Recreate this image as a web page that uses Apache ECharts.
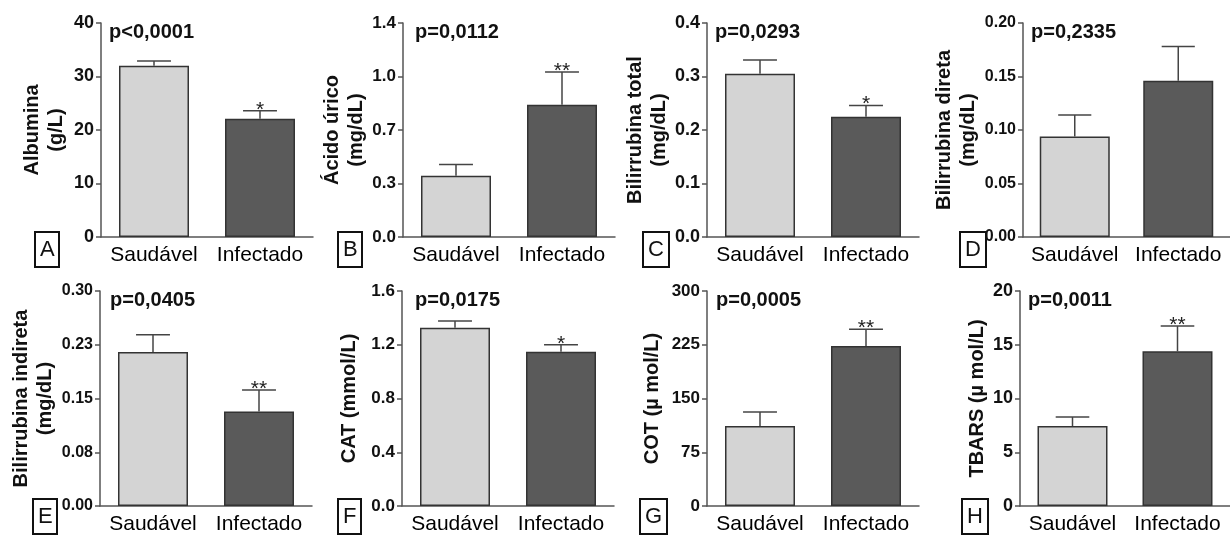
<!DOCTYPE html>
<html>
<head>
<meta charset="utf-8">
<script src="https://cdn.jsdelivr.net/npm/echarts@6/dist/echarts.min.js"></script>
<style>
html,body{margin:0;padding:0;background:#fff;}
#chart{width:1230px;height:536px;}
</style>
</head>
<body>
<div id="chart"></div>
<script>
// ---- data ----
const categories = ['Saudável', 'Infectado'];

const albuminaMean = [32.0, 22.1];
const albuminaErr = [0.9, 1.5];
const albuminaStars = ['', '*'];
const albuminaTicks = ['0', '10', '20', '30', '40'];

const acidoUricoMean = [0.40, 0.866];
const acidoUricoErr = [0.075, 0.213];
const acidoUricoStars = ['', '**'];
const acidoUricoTicks = ['0.0', '0.3', '0.7', '1.0', '1.4'];

const biliTotalMean = [0.305, 0.225];
const biliTotalErr = [0.026, 0.021];
const biliTotalStars = ['', '*'];
const biliTotalTicks = ['0.0', '0.1', '0.2', '0.3', '0.4'];

const biliDiretaMean = [0.094, 0.146];
const biliDiretaErr = [0.020, 0.032];
const biliDiretaStars = ['', ''];
const biliDiretaTicks = ['0.00', '0.05', '0.10', '0.15', '0.20'];

const biliIndiretaMean = [0.215, 0.132];
const biliIndiretaErr = [0.024, 0.030];
const biliIndiretaStars = ['', '**'];
const biliIndiretaTicks = ['0.00', '0.08', '0.15', '0.23', '0.30'];

const catMean = [1.326, 1.148];
const catErr = [0.050, 0.052];
const catStars = ['', '*'];
const catTicks = ['0.0', '0.4', '0.8', '1.2', '1.6'];

const cotMean = [111.6, 223.3];
const cotErr = [19.4, 23.2];
const cotStars = ['', '**'];
const cotTicks = ['0', '75', '150', '225', '300'];

const tbarsMean = [7.44, 14.39];
const tbarsErr = [0.84, 2.35];
const tbarsStars = ['', '**'];
const tbarsTicks = ['0', '5', '10', '15', '20'];

const yTitles = ['Albumina\n(g/L)', 'Ácido úrico\n(mg/dL)', 'Bilirrubina total\n(mg/dL)', 'Bilirrubina direta\n(mg/dL)',
                 'Bilirrubina indireta\n(mg/dL)', 'CAT (mmol/L)', 'COT (µ mol/L)', 'TBARS (µ mol/L)'];
const pValues = ['p<0,0001', 'p=0,0112', 'p=0,0293', 'p=0,2335', 'p=0,0405', 'p=0,0175', 'p=0,0005', 'p=0,0011'];
const letters = ['A', 'B', 'C', 'D', 'E', 'F', 'G', 'H'];
const yMax = [40, 1.4, 0.4, 0.2, 0.3, 1.6, 300, 20];
const yInterval = [10, 0.35, 0.1, 0.05, 0.075, 0.4, 75, 5];

const means = [albuminaMean, acidoUricoMean, biliTotalMean, biliDiretaMean, biliIndiretaMean, catMean, cotMean, tbarsMean];
const errs = [albuminaErr, acidoUricoErr, biliTotalErr, biliDiretaErr, biliIndiretaErr, catErr, cotErr, tbarsErr];
const stars = [albuminaStars, acidoUricoStars, biliTotalStars, biliDiretaStars, biliIndiretaStars, catStars, cotStars, tbarsStars];
const ticks = [albuminaTicks, acidoUricoTicks, biliTotalTicks, biliDiretaTicks, biliIndiretaTicks, catTicks, cotTicks, tbarsTicks];

// ---- layout ----
const gridPos = [
  {left: 101, top: 23, width: 212, height: 214},
  {left: 403, top: 23, width: 212, height: 214},
  {left: 707, top: 23, width: 212, height: 214},
  {left: 1023, top: 23, width: 211, height: 214},
  {left: 100, top: 291, width: 212, height: 215},
  {left: 402, top: 291, width: 212, height: 215},
  {left: 707, top: 291, width: 212, height: 215},
  {left: 1020, top: 291, width: 211, height: 215}
];
const nameGaps = [33, 29, 34, 42, 39, 41, 43, 29];
const tickFont = [18, 17, 18, 16, 16, 17, 17, 18];
const pPos = [[109,22],[415,22],[715,22],[1031,22],[110,290],[415,290],[716,290],[1028,290]];
const letterPos = [[35,232],[338,232],[643,232],[960,232],[33,499],[338,499],[640,499],[962,499]];

const FONT = 'Liberation Sans, Arial, sans-serif';
const AXC = '#555';
const barColors = ['#d4d4d4', '#5a5a5a'];

const grids = [], xAxes = [], yAxes = [], series = [], titles = [];

for (let i = 0; i < 8; i++) {
  grids.push(Object.assign({containLabel: false}, gridPos[i]));
  xAxes.push({
    type: 'category', gridIndex: i, data: categories,
    axisLine: {lineStyle: {color: AXC, width: 1.5}},
    axisTick: {alignWithLabel: true, length: 5, lineStyle: {color: AXC, width: 1.5}},
    axisLabel: {color: '#000', fontFamily: FONT, fontSize: 21, margin: 8, interval: 0}
  });
  const tl = ticks[i], iv = yInterval[i];
  yAxes.push({
    type: 'value', gridIndex: i, min: 0, max: yMax[i], interval: iv,
    name: yTitles[i], nameLocation: 'middle', nameGap: nameGaps[i],
    nameTextStyle: {color: '#111', fontFamily: FONT, fontSize: 20, fontWeight: 'bold', lineHeight: 24},
    axisLine: {show: true, lineStyle: {color: AXC, width: 1.5}},
    axisTick: {show: true, length: 5, lineStyle: {color: AXC, width: 1.5}},
    splitLine: {show: false},
    axisLabel: {color: '#111', fontFamily: FONT, fontSize: tickFont[i], fontWeight: 'bold', margin: 7,
      formatter: (v) => tl[Math.round(v / iv)]}
  });
  const m = means[i];
  series.push({
    type: 'bar', xAxisIndex: i, yAxisIndex: i, barWidth: 70,
    data: m.map((v, k) => ({value: v, itemStyle: {color: barColors[k]}})),
    itemStyle: {borderColor: '#333', borderWidth: 1.5},
    silent: true, animation: false
  });
  const e = errs[i], st = stars[i];
  series.push({
    type: 'custom', xAxisIndex: i, yAxisIndex: i, z: 5, animation: false, silent: true,
    data: m.map((v, k) => [k, v, e[k]]),
    renderItem: function (params, api) {
      const x = api.value(0), y = api.value(1), er = api.value(2);
      const p0 = api.coord([x, y]);
      const p1 = api.coord([x, y + er]);
      const half = api.size([1, 0])[0] * 0.16;
      const children = [
        {type: 'line', shape: {x1: p0[0], y1: p0[1], x2: p1[0], y2: p1[1]}, style: {stroke: '#444', lineWidth: 1.5}},
        {type: 'line', shape: {x1: p1[0] - half, y1: p1[1], x2: p1[0] + half, y2: p1[1]}, style: {stroke: '#444', lineWidth: 1.5}}
      ];
      const s = st[params.dataIndex];
      if (s) {
        children.push({type: 'text', style: {text: s, x: p1[0], y: p1[1] - 1, align: 'center', verticalAlign: 'middle',
          fontSize: 21, fontFamily: FONT, fill: '#222'}});
      }
      return {type: 'group', children: children};
    }
  });
  titles.push({
    text: pValues[i], left: pPos[i][0], top: pPos[i][1], padding: 0,
    textStyle: {color: '#111', fontFamily: FONT, fontSize: 20, fontWeight: 'bold', lineHeight: 20}
  });
  titles.push({
    text: letters[i], left: letterPos[i][0], top: letterPos[i][1], padding: [7, 5, 6, 5],
    borderColor: '#111', borderWidth: 2,
    textStyle: {color: '#111', fontFamily: FONT, fontSize: 22, fontWeight: 'normal', lineHeight: 22}
  });
}

const chart = echarts.init(document.getElementById('chart'), null, {renderer: 'canvas'});
chart.setOption({
  backgroundColor: '#fff',
  animation: false,
  title: titles,
  grid: grids,
  xAxis: xAxes,
  yAxis: yAxes,
  series: series
});
</script>
</body>
</html>
